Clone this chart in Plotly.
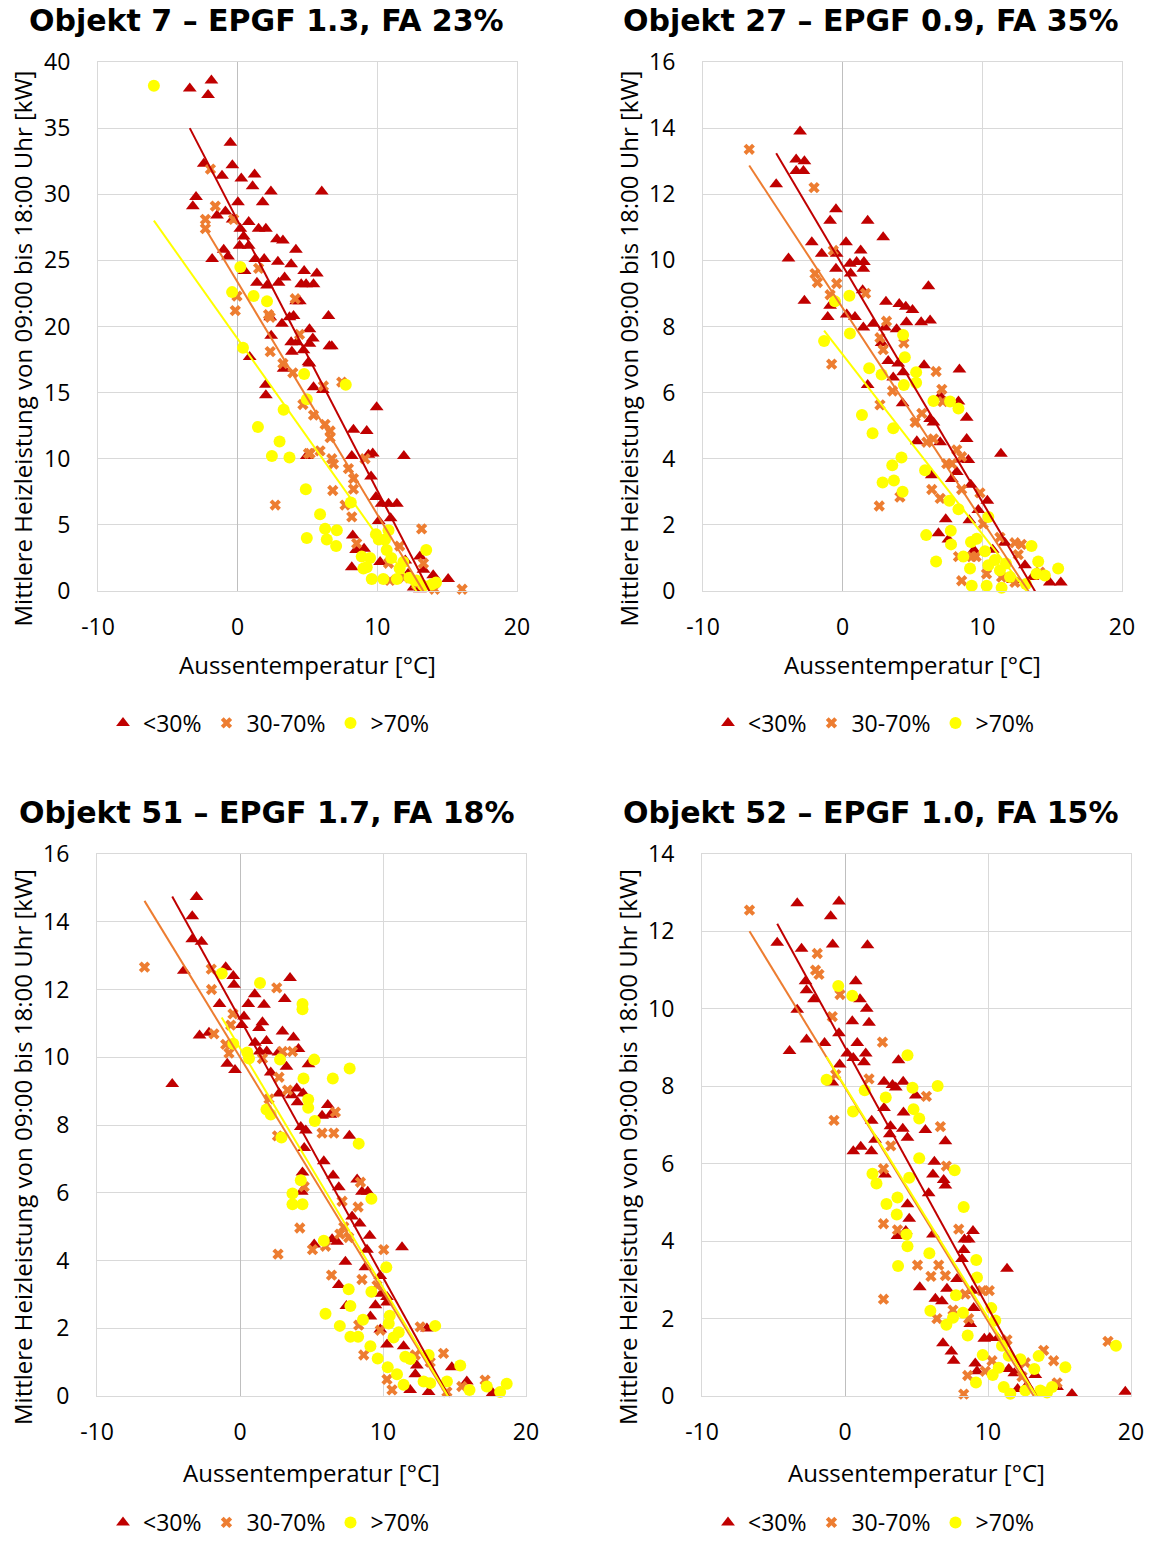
import numpy as np
import plotly.graph_objects as go

W, H = 1155, 1544

titles = ["Objekt 7 \u2013 EPGF 1.3, FA 23%", "Objekt 27 \u2013 EPGF 0.9, FA 35%",
          "Objekt 51 \u2013 EPGF 1.7, FA 18%", "Objekt 52 \u2013 EPGF 1.0, FA 15%"]
series_names = ["<30%", "30-70%", ">70%"]
x_title = "Aussentemperatur [\u00b0C]"
y_title = "Mittlere Heizleistung von 09:00 bis 18:00 Uhr [kW]"
y_max = [40, 16, 16, 14]
y_dtick = [5, 2, 2, 2]
x_range = [-10, 20]
x_tickvals = [-10, 0, 10, 20]
x_ticktext = ["-10", "0", "10", "20"]

# ---------------- Objekt 7 ----------------
p1_lt30_x = [-3.43,-1.88,-2.12,-0.52,-2.43,-0.38,-1.12,0.26,1.21,1.07,2.38,-2.98,-3.21,0.02,1.79,-1.48,-0.88,-0.36,0.79,0.19,1.5,2.02,0.43,2.81,3.24,0.14,0.79,4.17,-1.0,-0.69,-1.83,1.26,1.9,2.88,3.83,4.76,0.5,3.36,1.38,2.1,2.93,4.55,4.9,4.45,2.33,3.17,3.71,4.0,2.4,3.83,4.24,4.71,5.14,3.88,0.86,3.29,5.07,2.02,2.02,4.95,4.19,
             6.02,5.67,5.43,6.5,5.14,5.38,6.57,6.74,5.14,5.43,6.1,9.95,8.29,9.24,8.17,9.36,9.67,11.9,9.55,9.9,10.3,10.8,11.4,10.1,10.95,8.24,8.48,9.05,8.17,10.2,12.0,13.05,12.2,13.3,14.0,15.07,12.6,13.05,13.8]
p1_lt30_y = [38.0,38.6,37.5,33.9,32.3,32.2,31.4,31.2,31.5,30.6,30.2,29.8,29.1,29.4,29.4,28.4,28.7,28.1,27.9,27.4,27.4,27.4,26.8,26.6,26.5,26.1,26.1,25.8,25.8,25.3,25.1,25.1,25.1,24.9,24.7,24.2,24.2,23.7,23.3,23.1,23.3,23.2,23.2,21.9,20.7,20.2,20.7,20.8,19.3,18.8,18.8,18.2,18.7,18.1,17.7,16.8,17.3,15.6,14.8,10.2,21.9,
             30.2,24.0,23.2,20.8,19.8,19.1,18.5,18.5,17.2,15.4,15.2,13.9,12.2,12.1,10.2,10.3,10.4,10.2,8.65,7.1,6.6,6.6,6.6,5.3,5.5,4.2,3.1,3.2,1.8,2.2,2.3,2.6,1.3,1.6,1.2,0.9,0.26,0.13,0.4]
p1_mid_x = [-1.95,-1.6,-2.31,-2.31,-0.29,1.5,-0.05,-0.17,4.12,2.21,2.33,2.33,3.24,3.95,4.67,5.07,2.69,4.43,
            6.14,7.45,5.43,6.26,6.62,6.62,5.19,5.9,6.74,6.86,9.12,7.93,8.29,8.29,6.81,7.69,8.17,13.17,8.52,10.8,11.6,13.3,10.9,11.9,14.1,16.07,12.8]
p1_mid_y = [31.9,29.1,28.1,27.4,28.1,24.4,22.3,21.2,22.1,20.9,20.7,18.1,17.2,16.5,14.1,10.4,6.5,19.4,
            15.5,15.8,13.3,12.6,12.1,11.6,10.4,10.6,10.0,9.6,10.0,9.25,8.5,7.7,7.6,6.5,5.6,4.7,3.6,2.1,3.4,2.1,0.8,1.0,0.13,0.13,0.5]
p1_gt70_x = [-6.0,0.19,-0.4,1.14,2.1,0.38,4.76,4.95,3.29,1.45,3.0,2.45,3.71,4.88,4.95,
             7.74,5.9,6.26,7.1,6.38,7.05,8.1,9.9,10.8,8.88,9.48,9.0,9.6,10.43,10.67,10.55,11.0,11.6,11.86,11.4,12.3,12.8,13.5,13.9,14.2,13.3,10.1,9.24]
p1_gt70_y = [38.2,24.5,22.6,22.3,21.9,18.4,16.4,14.5,13.7,12.4,11.3,10.2,10.1,7.7,4.0,
             15.6,5.8,4.7,4.6,3.9,3.4,6.7,4.3,4.6,2.6,2.5,1.7,0.9,0.9,3.1,3.9,2.5,1.7,2.2,0.9,1.0,0.8,3.1,0.5,0.65,0.4,3.9,1.8]

# ---------------- Objekt 27 ----------------
p2_lt30_x = [-3.05,-3.33,-2.74,-3.33,-2.81,-4.76,-0.48,-0.9,1.79,2.9,-2.21,0.24,-1.5,-0.43,1.29,-3.88,0.52,1.0,1.52,-0.48,1.48,0.57,1.43,-2.74,-0.9,3.1,4.05,4.52,0.29,-1.07,0.88,1.48,2.19,3.02,3.86,4.57,2.79,3.26,3.98,4.33,3.62,4.29,1.79,
             6.14,5.0,5.62,6.26,5.83,8.36,6.98,8.29,8.88,6.26,6.5,8.88,6.98,5.31,11.33,8.52,9.0,8.17,6.38,7.81,9.17,10.36,9.71,9.07,7.38,6.86,7.57,9.4,10.74,13.05,14.83,15.62,12.2,13.6,11.6]
p2_lt30_y = [13.9,13.05,13.0,12.7,12.7,12.3,11.55,11.2,11.2,10.7,10.55,10.55,10.2,10.2,10.3,10.06,9.9,9.95,9.95,9.75,9.75,9.6,9.1,8.78,8.63,8.75,8.68,8.6,8.36,8.29,8.29,7.97,8.08,7.97,7.92,8.13,7.5,6.96,6.88,6.62,6.46,5.68,6.23,
             9.22,8.5,8.13,8.18,6.83,6.7,5.9,5.73,5.24,5.2,5.1,4.6,4.5,4.53,4.15,3.98,3.96,3.6,3.5,3.39,3.21,2.73,2.45,2.14,2.17,1.75,1.56,1.23,1.25,0.78,0.26,0.26,0.33,0.42,1.46]
p2_mid_x = [-6.69,-2.05,-0.67,-1.98,-1.81,-0.43,-0.9,1.64,-0.79,3.14,2.67,2.9,3.57,2.67,4.1,2.62,4.38,
            6.69,7.1,7.17,5.67,5.19,6.02,6.5,8.17,8.52,7.45,7.81,8.52,6.38,6.98,9.83,10.07,9.24,9.55,8.52,11.26,12.33,12.8,12.57,10.3,11.38,14.12,12.33,8.29]
p2_mid_y = [13.36,12.2,10.3,9.6,9.33,9.3,8.96,9.0,6.86,8.16,7.66,7.3,6.05,5.63,2.84,2.57,7.5,
            6.64,6.1,5.73,5.37,5.1,4.5,4.6,4.27,4.06,3.85,3.85,3.07,3.07,2.8,2.97,2.03,1.04,1.04,0.31,1.62,1.46,1.41,1.1,0.52,0.42,0.57,0.26,1.04]
p2_gt70_x = [-0.55,0.48,-1.33,0.52,4.33,4.45,1.9,2.79,4.38,1.38,2.14,3.62,4.21,3.55,2.86,3.67,4.29,
             5.26,5.26,6.5,7.69,8.29,5.9,7.64,8.29,10.43,7.74,5.98,7.76,9.19,9.6,6.69,8.64,9.12,9.24,10.19,10.31,10.43,10.9,11.26,11.38,11.69,11.98,13.52,14.0,13.88,14.48,15.43,13.12]
p2_gt70_y = [8.76,8.93,7.56,7.79,7.74,7.07,6.74,6.55,6.23,5.32,4.77,4.92,4.04,3.8,3.28,3.34,3.0,
             6.62,6.3,5.75,5.73,5.52,3.65,2.73,2.47,2.24,1.82,1.69,1.41,1.48,1.58,0.89,1.04,0.68,0.16,1.2,0.16,0.78,0.94,0.63,0.1,0.83,0.42,1.36,0.89,0.52,0.47,0.68,0.21]

# ---------------- Objekt 51 ----------------
p3_lt30_x = [-3.04,-3.34,-3.34,-2.69,-3.93,-1.0,-0.47,-0.42,3.5,1.03,3.13,-1.43,0.58,1.68,0.28,1.57,1.33,-2.83,-2.17,0.12,2.97,3.74,1.85,4.09,1.05,1.38,1.87,2.69,-0.89,-0.35,4.79,-4.74,2.15,3.25,2.73,3.62,3.97,4.42,4.02,4.25,4.6,4.49,4.37,4.32,5.19,
             6.14,5.74,6.33,7.65,5.86,6.51,6.91,8.19,8.53,8.93,7.84,8.37,9.07,11.33,8.88,6.44,6.79,7.37,6.91,8.77,9.81,9.47,9.12,9.88,10.28,9.81,13.07,10.28,11.44,12.37,12.26,14.81,15.86,17.67,11.9,13.19,7.44,10.28]
p3_lt30_y = [14.73,14.16,13.48,13.41,12.55,12.66,12.4,12.14,12.34,11.86,11.72,11.57,11.57,11.55,11.2,11.03,10.86,10.64,10.72,10.95,10.76,10.58,10.48,10.24,10.43,10.17,10.17,10.14,9.81,9.62,9.79,9.21,9.55,9.72,8.93,8.88,9.08,8.93,8.67,7.94,7.84,7.32,6.6,6.03,4.47,
             8.59,8.27,8.3,7.68,6.93,6.51,6.16,6.39,6.03,6.03,5.3,5.09,4.73,4.39,4.32,4.63,4.55,3.96,3.28,3.8,3.54,2.68,2.35,3.02,2.76,1.96,1.99,1.52,1.47,0.9,0.64,0.85,0.43,0.09,0.18,0.12,2.66,2.92]
p3_mid_x = [-6.68,-2.01,-1.99,-1.82,-0.49,-0.65,-1.0,-0.77,2.57,2.97,3.67,1.57,2.73,3.32,2.03,2.62,4.49,4.18,2.66,5.07,
            6.67,5.74,6.56,8.42,8.26,7.14,7.26,6.98,7.6,5.98,10.05,6.4,8.53,9.58,8.3,9.81,12.6,14.23,8.65,10.28,10.63,17.14,15.51,14.47,12.26,13.3]
p3_mid_y = [12.66,12.6,12.0,10.69,11.28,10.95,10.38,10.12,12.05,10.17,10.17,9.96,9.41,9.03,8.77,7.68,6.18,4.96,4.19,4.32,
            8.38,7.76,7.76,6.31,5.58,5.75,4.99,4.78,4.68,4.42,4.32,3.57,3.44,3.26,2.09,1.94,2.04,1.26,1.21,0.49,0.18,0.47,0.28,0.12,1.21,1.0]
p3_gt70_x = [-1.28,1.4,4.37,4.37,-0.47,0.51,0.63,2.8,5.19,4.44,4.77,4.77,5.23,1.85,2.15,2.9,4.25,3.67,3.67,4.37,
             6.49,7.67,8.3,9.19,5.86,10.23,7.6,9.19,7.72,5.98,8.6,6.98,7.72,8.26,10.47,10.4,11.1,10.74,13.65,9.12,9.63,10.33,10.98,11.56,11.91,11.44,12.84,13.3,13.19,14.47,15.4,16.05,17.26,18.19,18.65]
p3_gt70_y = [12.47,12.19,11.57,11.42,10.4,10.14,9.96,9.93,9.93,9.37,8.75,8.51,8.12,8.46,8.31,7.63,6.37,5.98,5.66,5.66,
             9.37,9.67,7.45,5.82,4.58,3.8,3.15,3.08,2.66,2.43,2.25,2.07,1.75,1.75,2.37,2.14,1.88,1.73,2.07,1.47,1.11,0.85,0.64,1.16,1.09,0.33,0.43,0.38,1.21,0.43,0.9,0.18,0.28,0.12,0.36]

# ---------------- Objekt 52 ----------------
p4_lt30_x = [-3.34,-0.42,-1.0,-4.74,-3.04,-0.86,1.57,-2.76,-2.69,-2.17,0.75,1.05,1.52,-3.34,0.51,1.68,-0.42,-2.69,-1.43,0.86,-3.88,0.16,0.58,1.45,1.33,-0.37,3.74,-0.89,2.73,3.32,3.55,4.07,4.95,2.73,4.09,1.87,3.18,4.04,4.37,3.13,2.1,0.58,1.1,1.85,2.8,4.37,4.49,3.67,5.23,4.25,
             5.62,7.02,6.25,6.15,6.9,7.02,5.85,8.95,8.35,8.65,8.3,6.15,11.33,8.18,7.83,7.13,6.32,6.78,8.88,9.0,8.76,9.74,10.12,10.68,6.85,7.44,7.6,9.11,9.23,11.45,11.84,13.31,14.83,15.87,19.6,12.07,12.73]
p4_lt30_y = [12.73,12.77,12.39,11.71,11.55,11.66,11.64,10.71,10.48,10.25,10.71,10.25,10.0,9.98,9.68,9.64,9.37,9.21,9.12,9.12,8.91,8.85,8.73,8.85,8.62,8.56,8.67,8.1,8.12,8.03,7.97,8.12,7.76,7.44,7.32,7.11,6.97,6.9,6.67,6.76,6.62,6.32,6.44,6.32,5.72,4.95,4.58,4.13,2.81,4.26,
             6.87,6.58,6.05,5.72,5.58,5.44,5.24,4.26,4.04,4.04,3.77,4.17,3.29,3.54,3.02,2.77,2.51,2.45,2.72,2.27,1.86,1.48,1.5,1.5,1.36,1.15,0.91,0.84,0.64,0.7,0.59,0.54,0.23,0.05,0.11,0.18,0.27]
p4_mid_x = [-6.68,-1.94,-2.06,-1.82,-0.35,-0.89,2.62,1.68,-0.65,-0.77,3.2,2.69,2.69,3.67,5.07,2.69,
            5.69,6.67,7.09,7.95,6.01,6.55,7.02,8.41,9.58,10.09,7.55,8.65,6.43,13.89,14.59,10.28,11.33,9.81,8.58,8.3,12.61,14.83,18.39,12.38]
p4_mid_y = [12.55,11.43,11.0,10.89,10.37,9.8,9.14,8.19,8.3,7.12,6.46,5.87,4.45,4.29,3.38,2.5,
            7.74,6.96,5.94,4.31,3.09,3.38,3.11,2.63,2.72,2.72,2.22,2.0,2.0,1.18,0.91,0.91,1.45,0.64,0.53,0.05,0.86,0.34,1.41,0.5]
p4_gt70_x = [-0.47,0.51,-1.29,1.38,2.85,4.37,4.72,4.79,5.19,0.56,5.19,4.49,1.92,2.2,2.9,3.67,3.62,4.3,4.37,3.71,
             6.48,7.67,8.3,5.9,9.18,9.23,7.76,5.97,7.09,7.55,8.25,8.58,10.23,10.51,9.63,10.98,11.45,9.16,10.33,10.75,11.1,11.56,12.26,13.24,13.54,12.61,13.66,14.48,15.41,18.95,14.13]
p4_gt70_y = [10.59,10.34,8.17,7.9,7.71,8.8,7.96,7.41,7.17,7.35,6.14,5.64,5.74,5.49,4.96,5.13,4.69,4.17,3.87,3.36,
             8.01,5.83,4.88,3.69,3.51,3.06,2.6,2.2,1.84,2.02,2.15,1.56,2.27,1.95,1.06,1.3,1.04,0.35,0.54,0.73,0.23,0.06,0.95,0.7,1.03,0.14,0.14,0.23,0.74,1.3,0.09]

# linear trendlines: (intercept, slope) per series
p1_trend = [(28.0, -2.04), (23.34, -1.756), (19.06, -1.49)]
p2_trend = [(9.84, -0.715), (8.56, -0.644), (7.15, -0.543)]
p3_trend = [(11.13, -0.763), (10.0, -0.691), (10.27, -0.7065)]
p4_trend = [(9.01, -0.673), (7.97, -0.604), (7.99, -0.597)]

panels = [
    [(p1_lt30_x, p1_lt30_y), (p1_mid_x, p1_mid_y), (p1_gt70_x, p1_gt70_y), p1_trend],
    [(p2_lt30_x, p2_lt30_y), (p2_mid_x, p2_mid_y), (p2_gt70_x, p2_gt70_y), p2_trend],
    [(p3_lt30_x, p3_lt30_y), (p3_mid_x, p3_mid_y), (p3_gt70_x, p3_gt70_y), p3_trend],
    [(p4_lt30_x, p4_lt30_y), (p4_mid_x, p4_mid_y), (p4_gt70_x, p4_gt70_y), p4_trend],
]

# styling
marker_styles = [
    dict(symbol="triangle-up", size=12, color="#C00000"),
    dict(symbol="x", size=10, color="#ED7D31"),
    dict(symbol="circle", size=12, color="#FFFF00"),
]
line_colors = ["#C00000", "#ED7D31", "#FFFF00"]

# plot-area boxes in pixels (left, right, top, bottom)
boxes = [(98, 517, 62, 591), (703, 1122, 62, 591), (97, 526, 854, 1396), (702, 1131, 854, 1396)]
title_pos = [(266, 20), (871, 20), (267, 812), (871, 812)]
xtitle_y = [664, 664, 1472, 1472]
ytitle_x = [22, 628, 22, 627]
ytitle_dy = 22
legend_left = [103, 708, 103, 708]
legend_y = [723, 723, None, None]   # bottom legends sit on the lower page edge

FONT = "Open Sans"
TFONT = "DejaVu Sans"
FS = 23
FS_T = 24

fig = go.Figure()
layout = dict(width=W, height=H, margin=dict(l=0, r=0, t=0, b=0, autoexpand=False),
              paper_bgcolor="white", plot_bgcolor="white", annotations=[])

for i, panel in enumerate(panels):
    sfx = "" if i == 0 else str(i + 1)
    xa, ya = "x" + sfx, "y" + sfx
    leg = "legend" + sfx
    for j in range(3):
        xs, ys = panel[j]
        fig.add_trace(go.Scatter(x=xs, y=ys, mode="markers", name=series_names[j],
                                 marker=dict(**marker_styles[j], line=dict(width=0)),
                                 xaxis=xa, yaxis=ya, legend=leg, cliponaxis=False))
    for j in range(3):
        xs, _ = panel[j]
        a, b = panel[3][j]
        lx = np.array([min(xs), max(xs)])
        fig.add_trace(go.Scatter(x=lx, y=a + b * lx, mode="lines",
                                 line=dict(color=line_colors[j], width=2),
                                 xaxis=xa, yaxis=ya, showlegend=False, hoverinfo="skip"))
    l, r, t, btm = boxes[i]
    layout["xaxis" + sfx] = dict(
        domain=[l / W, r / W], anchor=ya, range=x_range,
        tickvals=x_tickvals, ticktext=x_ticktext, automargin=False,
        showgrid=True, gridcolor="#D9D9D9", gridwidth=1,
        zeroline=True, zerolinecolor="#BFBFBF", zerolinewidth=1,
        showline=True, linecolor="#D9D9D9", mirror=True,
        ticks="outside", ticklen=15, tickcolor="rgba(0,0,0,0)",
        tickfont=dict(family=FONT, size=FS, color="#000000"),
    )
    layout["yaxis" + sfx] = dict(
        domain=[1 - btm / H, 1 - t / H], anchor=xa, range=[0, y_max[i]], dtick=y_dtick[i],
        automargin=False,
        showgrid=True, gridcolor="#D9D9D9", gridwidth=1, zeroline=False,
        showline=True, linecolor="#D9D9D9", mirror=True,
        ticks="outside", ticklen=22, tickcolor="rgba(0,0,0,0)",
        tickfont=dict(family=FONT, size=FS, color="#000000"),
    )
    if legend_y[i] is not None:
        ly, yanc = 1 - legend_y[i] / H, "middle"
    else:
        ly, yanc = 0.0, "bottom"
    layout[leg] = dict(orientation="h", x=legend_left[i] / W, y=ly,
                       xanchor="left", yanchor=yanc,
                       font=dict(family=FONT, size=FS, color="#000000"), itemwidth=30,
                       bgcolor="rgba(0,0,0,0)")
    tx, ty = title_pos[i]
    layout["annotations"].append(dict(
        text="<b>" + titles[i] + "</b>", x=tx / W, y=1 - ty / H, xref="paper", yref="paper",
        xanchor="center", yanchor="middle", showarrow=False,
        font=dict(family=TFONT, size=30, color="#000000")))
    layout["annotations"].append(dict(
        text=x_title, x=(l + r) / 2 / W, y=1 - xtitle_y[i] / H, xref="paper", yref="paper",
        xanchor="center", yanchor="middle", showarrow=False,
        font=dict(family=FONT, size=FS_T, color="#000000")))
    layout["annotations"].append(dict(
        text=y_title, x=ytitle_x[i] / W, y=1 - ((t + btm) / 2 + ytitle_dy) / H,
        xref="paper", yref="paper", textangle=-90,
        xanchor="center", yanchor="middle", showarrow=False,
        font=dict(family=FONT, size=FS_T, color="#000000")))

fig.update_layout(**layout)
fig.write_html("out.html", config={"displayModeBar": False},
               post_script="document.body.style.margin='0px';document.body.style.padding='0px';")
